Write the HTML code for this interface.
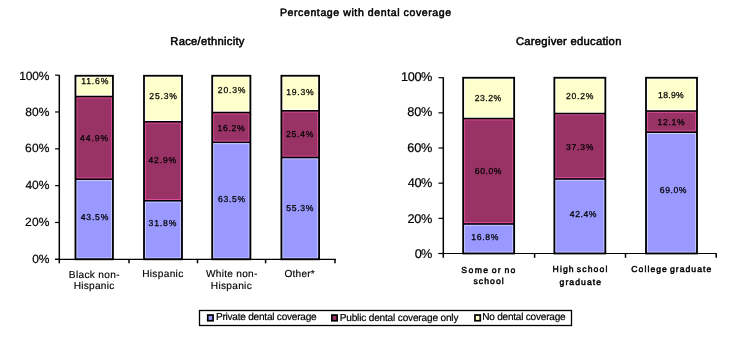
<!DOCTYPE html>
<html><head><meta charset="utf-8"><style>
html,body{margin:0;padding:0;background:#fff;width:730px;height:339px;overflow:hidden}
#w{will-change:transform}
svg{display:block;font-family:"Liberation Sans", sans-serif;text-rendering:geometricPrecision}
</style></head><body><div id="w">
<svg width="730" height="339" viewBox="0 0 730 339">
<rect width="730" height="339" fill="#fff"/>
<rect x="75.45" y="75.75" width="37.5" height="20.81" fill="#FFFFCC"/>
<rect x="76.85" y="77.05" width="34.70" height="18.21" fill="none" stroke="#FFFFFF" stroke-width="1"/>
<rect x="75.45" y="96.56" width="37.5" height="82.66" fill="#993366"/>
<rect x="76.85" y="97.86" width="34.70" height="80.06" fill="none" stroke="#DD4F99" stroke-width="1"/>
<rect x="75.45" y="179.22" width="37.5" height="80.08" fill="#9999FF"/>
<rect x="76.85" y="180.52" width="34.70" height="77.48" fill="none" stroke="#CCCCFF" stroke-width="1"/>
<line x1="75.45" y1="96.56" x2="112.95" y2="96.56" stroke="#000" stroke-width="1.4"/>
<line x1="75.45" y1="179.22" x2="112.95" y2="179.22" stroke="#000" stroke-width="1.4"/>
<rect x="75.45" y="75.75" width="37.5" height="183.55" fill="none" stroke="#000" stroke-width="1.8"/>
<rect x="144.00" y="75.75" width="38" height="46.03" fill="#FFFFCC"/>
<rect x="145.40" y="77.05" width="35.20" height="43.43" fill="none" stroke="#FFFFFF" stroke-width="1"/>
<rect x="144.00" y="121.78" width="38" height="78.98" fill="#993366"/>
<rect x="145.40" y="123.08" width="35.20" height="76.38" fill="none" stroke="#DD4F99" stroke-width="1"/>
<rect x="144.00" y="200.76" width="38" height="58.54" fill="#9999FF"/>
<rect x="145.40" y="202.06" width="35.20" height="55.94" fill="none" stroke="#CCCCFF" stroke-width="1"/>
<line x1="144.00" y1="121.78" x2="182.00" y2="121.78" stroke="#000" stroke-width="1.4"/>
<line x1="144.00" y1="200.76" x2="182.00" y2="200.76" stroke="#000" stroke-width="1.4"/>
<rect x="144.00" y="75.75" width="38" height="183.55" fill="none" stroke="#000" stroke-width="1.8"/>
<rect x="212.20" y="75.75" width="38.2" height="36.82" fill="#FFFFCC"/>
<rect x="213.60" y="77.05" width="35.40" height="34.22" fill="none" stroke="#FFFFFF" stroke-width="1"/>
<rect x="212.20" y="112.57" width="38.2" height="29.82" fill="#993366"/>
<rect x="213.60" y="113.87" width="35.40" height="27.22" fill="none" stroke="#DD4F99" stroke-width="1"/>
<rect x="212.20" y="142.40" width="38.2" height="116.90" fill="#9999FF"/>
<rect x="213.60" y="143.70" width="35.40" height="114.30" fill="none" stroke="#CCCCFF" stroke-width="1"/>
<line x1="212.20" y1="112.57" x2="250.40" y2="112.57" stroke="#000" stroke-width="1.4"/>
<line x1="212.20" y1="142.40" x2="250.40" y2="142.40" stroke="#000" stroke-width="1.4"/>
<rect x="212.20" y="75.75" width="38.2" height="183.55" fill="none" stroke="#000" stroke-width="1.8"/>
<rect x="281.40" y="75.75" width="37.7" height="34.98" fill="#FFFFCC"/>
<rect x="282.80" y="77.05" width="34.90" height="32.38" fill="none" stroke="#FFFFFF" stroke-width="1"/>
<rect x="281.40" y="110.73" width="37.7" height="46.76" fill="#993366"/>
<rect x="282.80" y="112.03" width="34.90" height="44.16" fill="none" stroke="#DD4F99" stroke-width="1"/>
<rect x="281.40" y="157.49" width="37.7" height="101.81" fill="#9999FF"/>
<rect x="282.80" y="158.79" width="34.90" height="99.21" fill="none" stroke="#CCCCFF" stroke-width="1"/>
<line x1="281.40" y1="110.73" x2="319.10" y2="110.73" stroke="#000" stroke-width="1.4"/>
<line x1="281.40" y1="157.49" x2="319.10" y2="157.49" stroke="#000" stroke-width="1.4"/>
<rect x="281.40" y="75.75" width="37.7" height="183.55" fill="none" stroke="#000" stroke-width="1.8"/>
<line x1="59.3" y1="75.0" x2="59.3" y2="263.3" stroke="#000" stroke-width="1.5"/>
<line x1="55.099999999999994" y1="259.3" x2="335.8" y2="259.3" stroke="#000" stroke-width="1.2"/>
<line x1="55.099999999999994" y1="259.30" x2="59.3" y2="259.30" stroke="#000" stroke-width="1.2"/>
<line x1="55.099999999999994" y1="222.47" x2="59.3" y2="222.47" stroke="#000" stroke-width="1.2"/>
<line x1="55.099999999999994" y1="185.64" x2="59.3" y2="185.64" stroke="#000" stroke-width="1.2"/>
<line x1="55.099999999999994" y1="148.81" x2="59.3" y2="148.81" stroke="#000" stroke-width="1.2"/>
<line x1="55.099999999999994" y1="111.98" x2="59.3" y2="111.98" stroke="#000" stroke-width="1.2"/>
<line x1="55.099999999999994" y1="75.15" x2="59.3" y2="75.15" stroke="#000" stroke-width="1.2"/>
<line x1="129" y1="259.3" x2="129" y2="263.3" stroke="#000" stroke-width="1.5"/>
<line x1="197.5" y1="259.3" x2="197.5" y2="263.3" stroke="#000" stroke-width="1.5"/>
<line x1="265.6" y1="259.3" x2="265.6" y2="263.3" stroke="#000" stroke-width="1.5"/>
<line x1="335" y1="259.3" x2="335" y2="263.3" stroke="#000" stroke-width="1.5"/>
<rect x="463.15" y="77.75" width="51" height="40.77" fill="#FFFFCC"/>
<rect x="464.55" y="79.05" width="48.20" height="38.17" fill="none" stroke="#FFFFFF" stroke-width="1"/>
<rect x="463.15" y="118.52" width="51" height="105.45" fill="#993366"/>
<rect x="464.55" y="119.82" width="48.20" height="102.85" fill="none" stroke="#DD4F99" stroke-width="1"/>
<rect x="463.15" y="223.97" width="51" height="29.53" fill="#9999FF"/>
<rect x="464.55" y="225.27" width="48.20" height="26.93" fill="none" stroke="#CCCCFF" stroke-width="1"/>
<line x1="463.15" y1="118.52" x2="514.15" y2="118.52" stroke="#000" stroke-width="1.4"/>
<line x1="463.15" y1="223.97" x2="514.15" y2="223.97" stroke="#000" stroke-width="1.4"/>
<rect x="463.15" y="77.75" width="51" height="175.75" fill="none" stroke="#000" stroke-width="1.8"/>
<rect x="554.35" y="77.75" width="51" height="35.68" fill="#FFFFCC"/>
<rect x="555.75" y="79.05" width="48.20" height="33.08" fill="none" stroke="#FFFFFF" stroke-width="1"/>
<rect x="554.35" y="113.43" width="51" height="65.55" fill="#993366"/>
<rect x="555.75" y="114.73" width="48.20" height="62.95" fill="none" stroke="#DD4F99" stroke-width="1"/>
<rect x="554.35" y="178.98" width="51" height="74.52" fill="#9999FF"/>
<rect x="555.75" y="180.28" width="48.20" height="71.92" fill="none" stroke="#CCCCFF" stroke-width="1"/>
<line x1="554.35" y1="113.43" x2="605.35" y2="113.43" stroke="#000" stroke-width="1.4"/>
<line x1="554.35" y1="178.98" x2="605.35" y2="178.98" stroke="#000" stroke-width="1.4"/>
<rect x="554.35" y="77.75" width="51" height="175.75" fill="none" stroke="#000" stroke-width="1.8"/>
<rect x="646.00" y="77.75" width="51" height="33.22" fill="#FFFFCC"/>
<rect x="647.40" y="79.05" width="48.20" height="30.62" fill="none" stroke="#FFFFFF" stroke-width="1"/>
<rect x="646.00" y="110.97" width="51" height="21.27" fill="#993366"/>
<rect x="647.40" y="112.27" width="48.20" height="18.67" fill="none" stroke="#DD4F99" stroke-width="1"/>
<rect x="646.00" y="132.23" width="51" height="121.27" fill="#9999FF"/>
<rect x="647.40" y="133.53" width="48.20" height="118.67" fill="none" stroke="#CCCCFF" stroke-width="1"/>
<line x1="646.00" y1="110.97" x2="697.00" y2="110.97" stroke="#000" stroke-width="1.4"/>
<line x1="646.00" y1="132.23" x2="697.00" y2="132.23" stroke="#000" stroke-width="1.4"/>
<rect x="646.00" y="77.75" width="51" height="175.75" fill="none" stroke="#000" stroke-width="1.8"/>
<line x1="443.3" y1="77.2" x2="443.3" y2="257.8" stroke="#000" stroke-width="1.5"/>
<line x1="438.5" y1="253.5" x2="716.8" y2="253.5" stroke="#000" stroke-width="1.2"/>
<line x1="438.5" y1="253.50" x2="443.3" y2="253.50" stroke="#000" stroke-width="1.2"/>
<line x1="438.5" y1="218.34" x2="443.3" y2="218.34" stroke="#000" stroke-width="1.2"/>
<line x1="438.5" y1="183.18" x2="443.3" y2="183.18" stroke="#000" stroke-width="1.2"/>
<line x1="438.5" y1="148.02" x2="443.3" y2="148.02" stroke="#000" stroke-width="1.2"/>
<line x1="438.5" y1="112.86" x2="443.3" y2="112.86" stroke="#000" stroke-width="1.2"/>
<line x1="438.5" y1="77.70" x2="443.3" y2="77.70" stroke="#000" stroke-width="1.2"/>
<line x1="534.6" y1="253.5" x2="534.6" y2="257.8" stroke="#000" stroke-width="1.5"/>
<line x1="625.5" y1="253.5" x2="625.5" y2="257.8" stroke="#000" stroke-width="1.5"/>
<line x1="716.2" y1="253.5" x2="716.2" y2="257.8" stroke="#000" stroke-width="1.5"/>
<rect x="199.5" y="310.5" width="372" height="15" fill="#fff" stroke="#000" stroke-width="1.3"/>
<rect x="207.75" y="315.05" width="5.3" height="5.7" fill="#9999FF" stroke="#000" stroke-width="1.7"/>
<rect x="331.85" y="315.05" width="5.3" height="5.7" fill="#993366" stroke="#000" stroke-width="1.7"/>
<rect x="474.95000000000005" y="315.05" width="5.3" height="5.7" fill="#FFFFCC" stroke="#000" stroke-width="1.7"/>
<text x="365.52" y="16.17" font-size="10.55" font-weight="normal" text-anchor="middle" textLength="171.16" lengthAdjust="spacing" stroke="#000" stroke-width="0.5">Percentage with dental coverage</text>
<text x="207.35" y="45.06" font-size="11.24" font-weight="normal" text-anchor="middle" textLength="74.21" lengthAdjust="spacing" stroke="#000" stroke-width="0.5">Race/ethnicity</text>
<text x="568.65" y="45.41" font-size="11.24" font-weight="normal" text-anchor="middle" textLength="105.47" lengthAdjust="spacing" stroke="#000" stroke-width="0.5">Caregiver education</text>
<text x="34.33" y="79.55" font-size="12.01" font-weight="normal" text-anchor="middle" textLength="30.17" lengthAdjust="spacing" stroke="#000" stroke-width="0.2">100%</text>
<text x="37.27" y="115.89" font-size="12.01" font-weight="normal" text-anchor="middle" textLength="24.13" lengthAdjust="spacing" stroke="#000" stroke-width="0.2">80%</text>
<text x="37.23" y="152.06" font-size="12.01" font-weight="normal" text-anchor="middle" textLength="24.23" lengthAdjust="spacing" stroke="#000" stroke-width="0.2">60%</text>
<text x="37.38" y="189.22" font-size="12.01" font-weight="normal" text-anchor="middle" textLength="23.92" lengthAdjust="spacing" stroke="#000" stroke-width="0.2">40%</text>
<text x="37.23" y="226.18" font-size="12.01" font-weight="normal" text-anchor="middle" textLength="24.22" lengthAdjust="spacing" stroke="#000" stroke-width="0.2">20%</text>
<text x="40.86" y="263.13" font-size="12.01" font-weight="normal" text-anchor="middle" textLength="17.11" lengthAdjust="spacing" stroke="#000" stroke-width="0.2">0%</text>
<text x="416.71" y="80.95" font-size="12.73" font-weight="normal" text-anchor="middle" textLength="31.40" lengthAdjust="spacing" stroke="#000" stroke-width="0.2">100%</text>
<text x="419.86" y="116.33" font-size="12.73" font-weight="normal" text-anchor="middle" textLength="25.07" lengthAdjust="spacing" stroke="#000" stroke-width="0.2">80%</text>
<text x="419.83" y="151.94" font-size="12.73" font-weight="normal" text-anchor="middle" textLength="25.13" lengthAdjust="spacing" stroke="#000" stroke-width="0.2">60%</text>
<text x="420.11" y="187.33" font-size="12.73" font-weight="normal" text-anchor="middle" textLength="24.58" lengthAdjust="spacing" stroke="#000" stroke-width="0.2">40%</text>
<text x="419.95" y="223.11" font-size="12.73" font-weight="normal" text-anchor="middle" textLength="24.95" lengthAdjust="spacing" stroke="#000" stroke-width="0.2">20%</text>
<text x="423.61" y="257.93" font-size="12.73" font-weight="normal" text-anchor="middle" textLength="17.54" lengthAdjust="spacing" stroke="#000" stroke-width="0.2">0%</text>
<text x="94.83" y="84.45" font-size="8.64" font-weight="normal" text-anchor="middle" textLength="27.03" lengthAdjust="spacing" stroke="#000" stroke-width="0.25">11.6%</text>
<text x="94.07" y="140.74" font-size="8.64" font-weight="normal" text-anchor="middle" textLength="28.29" lengthAdjust="spacing" stroke="#000" stroke-width="0.25">44.9%</text>
<text x="94.53" y="219.84" font-size="8.64" font-weight="normal" text-anchor="middle" textLength="27.66" lengthAdjust="spacing" stroke="#000" stroke-width="0.25">43.5%</text>
<text x="163.15" y="99.14" font-size="8.64" font-weight="normal" text-anchor="middle" textLength="27.65" lengthAdjust="spacing" stroke="#000" stroke-width="0.25">25.3%</text>
<text x="162.32" y="163.46" font-size="8.64" font-weight="normal" text-anchor="middle" textLength="27.80" lengthAdjust="spacing" stroke="#000" stroke-width="0.25">42.9%</text>
<text x="162.48" y="226.41" font-size="8.64" font-weight="normal" text-anchor="middle" textLength="27.75" lengthAdjust="spacing" stroke="#000" stroke-width="0.25">31.8%</text>
<text x="231.60" y="93.11" font-size="8.64" font-weight="normal" text-anchor="middle" textLength="27.56" lengthAdjust="spacing" stroke="#000" stroke-width="0.25">20.3%</text>
<text x="231.16" y="130.56" font-size="8.64" font-weight="normal" text-anchor="middle" textLength="27.11" lengthAdjust="spacing" stroke="#000" stroke-width="0.25">16.2%</text>
<text x="231.61" y="201.97" font-size="8.64" font-weight="normal" text-anchor="middle" textLength="27.10" lengthAdjust="spacing" stroke="#000" stroke-width="0.25">63.5%</text>
<text x="299.96" y="95.46" font-size="8.64" font-weight="normal" text-anchor="middle" textLength="27.20" lengthAdjust="spacing" stroke="#000" stroke-width="0.25">19.3%</text>
<text x="299.66" y="136.88" font-size="8.64" font-weight="normal" text-anchor="middle" textLength="27.37" lengthAdjust="spacing" stroke="#000" stroke-width="0.25">25.4%</text>
<text x="299.85" y="210.86" font-size="8.64" font-weight="normal" text-anchor="middle" textLength="27.08" lengthAdjust="spacing" stroke="#000" stroke-width="0.25">55.3%</text>
<text x="487.89" y="101.41" font-size="8.64" font-weight="normal" text-anchor="middle" textLength="26.53" lengthAdjust="spacing" stroke="#000" stroke-width="0.25">23.2%</text>
<text x="488.13" y="174.32" font-size="8.64" font-weight="normal" text-anchor="middle" textLength="26.54" lengthAdjust="spacing" stroke="#000" stroke-width="0.25">60.0%</text>
<text x="484.82" y="240.29" font-size="8.64" font-weight="normal" text-anchor="middle" textLength="27.10" lengthAdjust="spacing" stroke="#000" stroke-width="0.25">16.8%</text>
<text x="579.73" y="98.70" font-size="8.64" font-weight="normal" text-anchor="middle" textLength="27.43" lengthAdjust="spacing" stroke="#000" stroke-width="0.25">20.2%</text>
<text x="579.69" y="149.54" font-size="8.64" font-weight="normal" text-anchor="middle" textLength="27.50" lengthAdjust="spacing" stroke="#000" stroke-width="0.25">37.3%</text>
<text x="583.16" y="217.39" font-size="8.64" font-weight="normal" text-anchor="middle" textLength="26.76" lengthAdjust="spacing" stroke="#000" stroke-width="0.25">42.4%</text>
<text x="670.92" y="97.92" font-size="8.64" font-weight="normal" text-anchor="middle" textLength="25.72" lengthAdjust="spacing" stroke="#000" stroke-width="0.25">18.9%</text>
<text x="671.10" y="124.91" font-size="8.64" font-weight="normal" text-anchor="middle" textLength="26.96" lengthAdjust="spacing" stroke="#000" stroke-width="0.25">12.1%</text>
<text x="673.10" y="192.51" font-size="8.64" font-weight="normal" text-anchor="middle" textLength="26.54" lengthAdjust="spacing" stroke="#000" stroke-width="0.25">69.0%</text>
<text x="94.16" y="277.72" font-size="10.15" font-weight="normal" text-anchor="middle" textLength="50.70" lengthAdjust="spacing" stroke="#000" stroke-width="0.15">Black non-</text>
<text x="94.00" y="288.68" font-size="10.15" font-weight="normal" text-anchor="middle" textLength="40.68" lengthAdjust="spacing" stroke="#000" stroke-width="0.15">Hispanic</text>
<text x="162.70" y="277.17" font-size="10.15" font-weight="normal" text-anchor="middle" textLength="41.02" lengthAdjust="spacing" stroke="#000" stroke-width="0.15">Hispanic</text>
<text x="231.65" y="277.17" font-size="10.15" font-weight="normal" text-anchor="middle" textLength="51.41" lengthAdjust="spacing" stroke="#000" stroke-width="0.15">White non-</text>
<text x="231.26" y="289.08" font-size="10.15" font-weight="normal" text-anchor="middle" textLength="40.88" lengthAdjust="spacing" stroke="#000" stroke-width="0.15">Hispanic</text>
<text x="299.61" y="277.09" font-size="10.15" font-weight="normal" text-anchor="middle" textLength="30.05" lengthAdjust="spacing" stroke="#000" stroke-width="0.15">Other*</text>
<text x="488.34" y="272.50" font-size="8.63" font-weight="normal" text-anchor="middle" textLength="54.01" lengthAdjust="spacing" stroke="#000" stroke-width="0.45" word-spacing="-1.5">Some or no</text>
<text x="488.57" y="284.45" font-size="8.63" font-weight="normal" text-anchor="middle" textLength="30.24" lengthAdjust="spacing" stroke="#000" stroke-width="0.45" word-spacing="-1.5">school</text>
<text x="579.95" y="271.84" font-size="8.63" font-weight="normal" text-anchor="middle" textLength="54.84" lengthAdjust="spacing" stroke="#000" stroke-width="0.45" word-spacing="-1.5">High school</text>
<text x="580.31" y="284.68" font-size="8.63" font-weight="normal" text-anchor="middle" textLength="41.57" lengthAdjust="spacing" stroke="#000" stroke-width="0.45" word-spacing="-1.5">graduate</text>
<text x="671.31" y="272.00" font-size="8.63" font-weight="normal" text-anchor="middle" textLength="79.99" lengthAdjust="spacing" stroke="#000" stroke-width="0.45" word-spacing="-1.5">College graduate</text>
<text x="266.29" y="320.27" font-size="10.09" font-weight="normal" text-anchor="middle" textLength="100.79" lengthAdjust="spacing" stroke="#000" stroke-width="0.2">Private dental coverage</text>
<text x="399.04" y="320.53" font-size="10.09" font-weight="normal" text-anchor="middle" textLength="118.80" lengthAdjust="spacing" stroke="#000" stroke-width="0.2">Public dental coverage only</text>
<text x="523.92" y="320.17" font-size="10.09" font-weight="normal" text-anchor="middle" textLength="83.37" lengthAdjust="spacing" stroke="#000" stroke-width="0.2">No dental coverage</text>
</svg></div></body></html>
